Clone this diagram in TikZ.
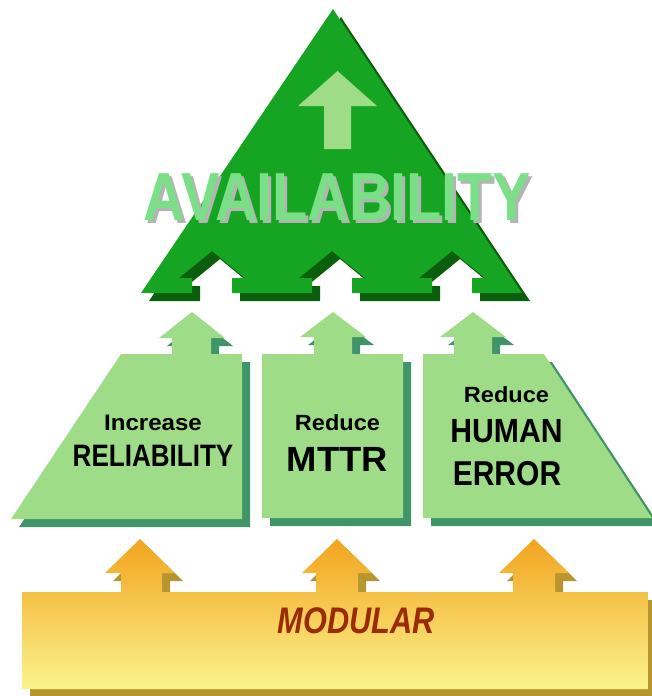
\documentclass[tikz,border=0pt]{standalone}
\usepackage{fontspec}
\setmainfont{Liberation Sans}
\definecolor{triface}{HTML}{16A423}
\definecolor{trishadow}{HTML}{0B5E0B}
\definecolor{lightface}{HTML}{9EDC87}
\definecolor{boxshadow}{HTML}{3F9469}
\definecolor{availgreen}{HTML}{7ADF86}
\definecolor{availshadow}{HTML}{B4B4B4}
\definecolor{goldtop}{HTML}{F2A41E}
\definecolor{goldbottom}{HTML}{FBF48E}
\definecolor{goldshadowc}{HTML}{B8962F}
\definecolor{modtext}{HTML}{9A2A00}
\newcommand\availword{\scalebox{0.845}[1]{AVAILABILITY}}
\begin{document}
\begin{tikzpicture}[x=1pt,y=-1pt,
  lbl/.style={anchor=base,inner sep=0pt,outer sep=0pt,font=\bfseries},
  trishade/.style={fill=trishadow},
  triplain/.style={fill=triface},
  boxshade/.style={fill=boxshadow},
  boxplain/.style={fill=lightface},
  goldshade/.style={fill=goldshadowc},
  goldplain/.style={top color=goldtop,bottom color=goldbottom},
]
\useasboundingbox (0,0) rectangle (652,696);
\clip (0,0) rectangle (652,696);

% apex triangle with three arrow-shaped notches, drop shadow first
\foreach \d/\st in {8/trishade,0/triplain}{
  \path[\st,shift={(\d,\d)}]
    (141,293) -- (192,293) -- (192,278) -- (179,278) -- (212,251) -- (245,278) -- (232,278) -- (232,293)
    -- (312,293) -- (312,278) -- (299,278) -- (332,251) -- (365,278) -- (352,278) -- (352,293)
    -- (432,293) -- (432,278) -- (419,278) -- (452,251) -- (485,278) -- (472,278) -- (472,293)
    -- (522,293) -- (333,9) -- cycle;
}
% upward arrow inside the triangle
\fill[lightface] (324,149) -- (324,106) -- (298,106) -- (337.5,71) -- (377,106) -- (351,106) -- (351,149) -- cycle;

% title with its grey drop shadow set in the same node
\node[lbl,font=\bfseries\fontsize{68}{68}\selectfont] (avail) at (337.5,220.5)
  {\rlap{\kern3pt\raisebox{-3pt}{\color{availshadow}\availword}}\color{availgreen}\availword};

% three middle blocks, each with an arrow on top
\foreach \d/\st in {8/boxshade,0/boxplain}{
  \path[\st,shift={(\d,\d)}]
    (11,519) -- (121,354) -- (172,354) -- (172,338) -- (159,338) -- (192,312) -- (225,338) -- (211,338) -- (211,354) -- (242,354) -- (242,519) -- cycle;
  \path[\st,shift={(\d,\d)}]
    (262,518) -- (262,354) -- (314,354) -- (314,337) -- (300,337) -- (333,312) -- (366,337) -- (352,337) -- (352,354) -- (403,354) -- (403,518) -- cycle;
  \path[\st,shift={(\d,\d)}]
    (423,518) -- (423,354) -- (454,354) -- (454,337) -- (440,337) -- (473,312) -- (506,337) -- (492,337) -- (492,354) -- (544,354) -- (652,518) -- cycle;
}

\node[lbl,font=\bfseries\fontsize{22.5}{22.5}\selectfont] (incr) at (153,430) {\scalebox{1.07}[1]{Increase}};
\node[lbl,font=\bfseries\fontsize{31}{31}\selectfont] (relia) at (153,466) {\scalebox{0.84}[1]{RELIABILITY}};
\node[lbl,font=\bfseries\fontsize{22}{22}\selectfont] (redmid) at (337.5,430.5) {\scalebox{1.07}[1]{Reduce}};
\node[lbl,font=\bfseries\fontsize{35}{35}\selectfont] (mttr) at (337.5,471.5) {\scalebox{1.04}[1]{MTTR}};
\node[lbl,font=\bfseries\fontsize{22}{22}\selectfont] (redright) at (506.5,402.3) {\scalebox{1.07}[1]{Reduce}};
\node[lbl,font=\bfseries\fontsize{33.5}{33.5}\selectfont] (human) at (506.5,442.3) {\scalebox{0.9}[1]{HUMAN}};
\node[lbl,font=\bfseries\fontsize{34.5}{34.5}\selectfont] (error) at (507,485.7) {\scalebox{0.87}[1]{ERROR}};

% base block with three arrows
\foreach \d/\st in {8/goldshade,0/goldplain}{
  \path[\st,shift={(\d,\d)}]
    (22,689) -- (22,592) -- (121,592) -- (121,573) -- (105,573) -- (140,539) -- (175,573) -- (162,573) -- (162,592)
    -- (316,592) -- (316,573) -- (302,573) -- (337,539) -- (372,573) -- (358,573) -- (358,592)
    -- (513,592) -- (513,573) -- (499,573) -- (534,539) -- (569,573) -- (555,573) -- (555,592)
    -- (648,592) -- (648,689) -- cycle;
}
\node[lbl,text=modtext,font=\bfseries\itshape\fontsize{37}{37}\selectfont] (modular) at (356,633) {\scalebox{0.83}[1]{MODULAR}};
\end{tikzpicture}
\end{document}
